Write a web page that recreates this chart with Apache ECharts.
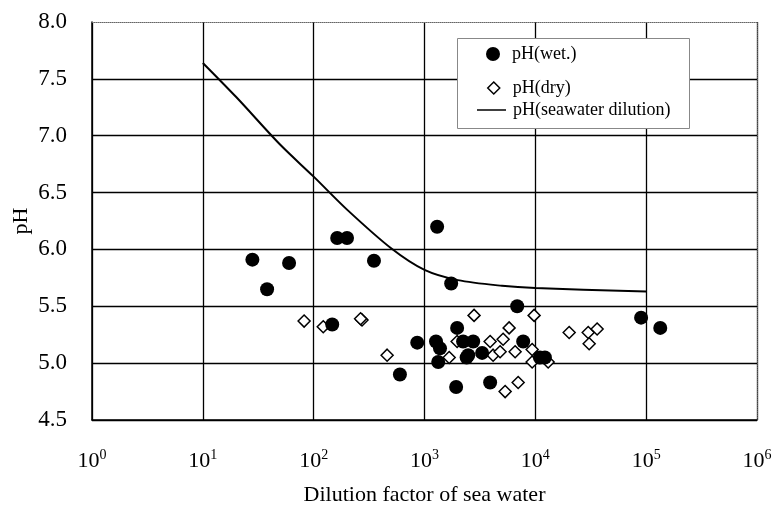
<!DOCTYPE html>
<html>
<head>
<meta charset="utf-8">
<script src="https://cdn.jsdelivr.net/npm/echarts@6/dist/echarts.min.js"></script>
<style>
html,body{margin:0;padding:0;background:#fff;}
#c{width:773px;height:507px;}
</style>
</head>
<body>
<div id="c"></div>
<script>
// ---- data ----
const wetX = [28, 38, 60, 163, 200, 350, 147, 600, 860, 1300, 1270, 1380, 1330, 1740, 1970, 2230, 2750, 2480, 2400, 3310, 1930, 3910, 6860, 7770, 11000, 12200, 90000, 134000];
const wetY = [5.91, 5.65, 5.88, 6.10, 6.10, 5.90, 5.34, 4.90, 5.18, 6.20, 5.19, 5.13, 5.01, 5.70, 5.31, 5.19, 5.19, 5.07, 5.05, 5.09, 4.79, 4.83, 5.50, 5.19, 5.05, 5.05, 5.40, 5.31];
const dryX = [82, 122, 273, 265, 460, 1670, 1970, 2800, 3910, 4160, 4810, 5120, 5800, 6570, 9360, 9360, 13050, 9750, 7000, 5340, 20200, 30000, 36100, 30600];
const dryY = [5.37, 5.32, 5.38, 5.39, 5.07, 5.05, 5.19, 5.42, 5.19, 5.07, 5.10, 5.21, 5.31, 5.10, 5.12, 5.01, 5.01, 5.42, 4.83, 4.75, 5.27, 5.27, 5.30, 5.17];
const seaX = [10, 20, 50, 100, 200, 500, 1000, 2000, 5000, 10000, 100000];
const seaY = [7.64, 7.34, 6.92, 6.64, 6.35, 6.01, 5.82, 5.73, 5.68, 5.66, 5.63];
const yTicks = [4.5, 5.0, 5.5, 6.0, 6.5, 7.0, 7.5, 8.0];
const seriesNames = ['pH(wet.)', 'pH(dry)', 'pH(seawater dilution)'];
const xName = 'Dilution factor of sea water';
const yName = 'pH';

const zip = (xs, ys) => xs.map((x, i) => [x, ys[i]]);
const FONT = '"Liberation Serif", "Times New Roman", serif';

const chart = echarts.init(document.getElementById('c'), null, {renderer: 'canvas'});
const option = {
  backgroundColor: '#fff',
  animation: false,
  grid: {left: 92, right: 16, top: 22, bottom: 87, containLabel: false, outerBoundsMode: 'none'},
  xAxis: [{
    type: 'log', logBase: 10, min: 1, max: 1e6,
    name: xName, nameLocation: 'middle', nameGap: 64, nameMoveOverlap: false,
    nameTextStyle: {fontFamily: FONT, fontSize: 22, color: '#000'},
    axisLine: {show: true, lineStyle: {color: '#000', width: 1.5}},
    axisTick: {show: false},
    splitLine: {show: true, lineStyle: {color: '#000', width: 1.3}},
    axisLabel: {
      margin: 28,
      formatter: v => '{b|10}{s|' + Math.round(Math.log10(v)) + '}',
      rich: {
        b: {fontFamily: FONT, fontSize: 22, color: '#000'},
        s: {fontFamily: FONT, fontSize: 14, color: '#000', padding: [0, 0, 12, 0]}
      }
    }
  }, {
    type: 'log', logBase: 10, min: 1, max: 1e6, position: 'top',
    axisLine: {show: true, lineStyle: {color: '#666', width: 1, type: 'dotted'}},
    axisTick: {show: false}, axisLabel: {show: false}, splitLine: {show: false}
  }],
  yAxis: [{
    type: 'value', min: 4.5, max: 8.0, interval: 0.5,
    name: yName, nameLocation: 'middle', nameGap: 60, nameRotate: 90, nameMoveOverlap: false,
    nameTextStyle: {fontFamily: FONT, fontSize: 22, color: '#000'},
    axisLine: {show: true, lineStyle: {color: '#000', width: 1.5}},
    axisTick: {show: false},
    splitLine: {show: true, showMaxLine: false, lineStyle: {color: '#000', width: 1.3}},
    axisLabel: {
      margin: 25, fontFamily: FONT, fontSize: 23, color: '#000',
      formatter: v => (yTicks.indexOf(Math.round(v * 10) / 10) >= 0 ? v.toFixed(1) : '')
    }
  }, {
    type: 'value', min: 4.5, max: 8.0, interval: 0.5, position: 'right',
    axisLine: {show: true, lineStyle: {color: '#666', width: 1, type: 'dotted'}},
    axisTick: {show: false}, axisLabel: {show: false}, splitLine: {show: false}
  }],
  graphic: [{
    type: 'rect', z: 50, left: 457, top: 38,
    shape: {width: 232, height: 90},
    style: {fill: '#fff', stroke: '#888', lineWidth: 1}
  }],
  legend: [{
    data: [seriesNames[0]], left: 486, top: 45, z: 60, padding: 0,
    icon: 'circle', itemWidth: 14, itemHeight: 14, itemGap: 0,
    textStyle: {fontFamily: FONT, fontSize: 18, color: '#000', padding: [4, 0, 0, 7]}
  }, {
    data: [seriesNames[1]], left: 487, top: 79, z: 60, padding: 0,
    icon: 'diamond', itemWidth: 12, itemHeight: 12, itemGap: 0,
    itemStyle: {color: '#fff', borderColor: '#000', borderWidth: 1.5},
    textStyle: {fontFamily: FONT, fontSize: 18, color: '#000', padding: [3, 0, 0, 8]}
  }, {
    data: [seriesNames[2]], left: 477, top: 101, z: 60, padding: 0,
    icon: 'rect', itemWidth: 29, itemHeight: 1.5, itemGap: 0,
    textStyle: {fontFamily: FONT, fontSize: 18, color: '#000', padding: [4, 0, 0, 2]}
  }],
  series: [{
    name: seriesNames[2], type: 'line', data: zip(seaX, seaY),
    symbol: 'none', smooth: 0.3,
    lineStyle: {color: '#000', width: 2}, itemStyle: {color: '#000'}, z: 2
  }, {
    name: seriesNames[1], type: 'scatter', data: zip(dryX, dryY),
    symbol: 'diamond', symbolSize: 12,
    itemStyle: {color: '#fff', borderColor: '#000', borderWidth: 1.5, opacity: 1}, z: 3
  }, {
    name: seriesNames[0], type: 'scatter', data: zip(wetX, wetY),
    symbol: 'circle', symbolSize: 14,
    itemStyle: {color: '#000', opacity: 1}, z: 4
  }]
};
chart.setOption(option);
</script>
</body>
</html>
